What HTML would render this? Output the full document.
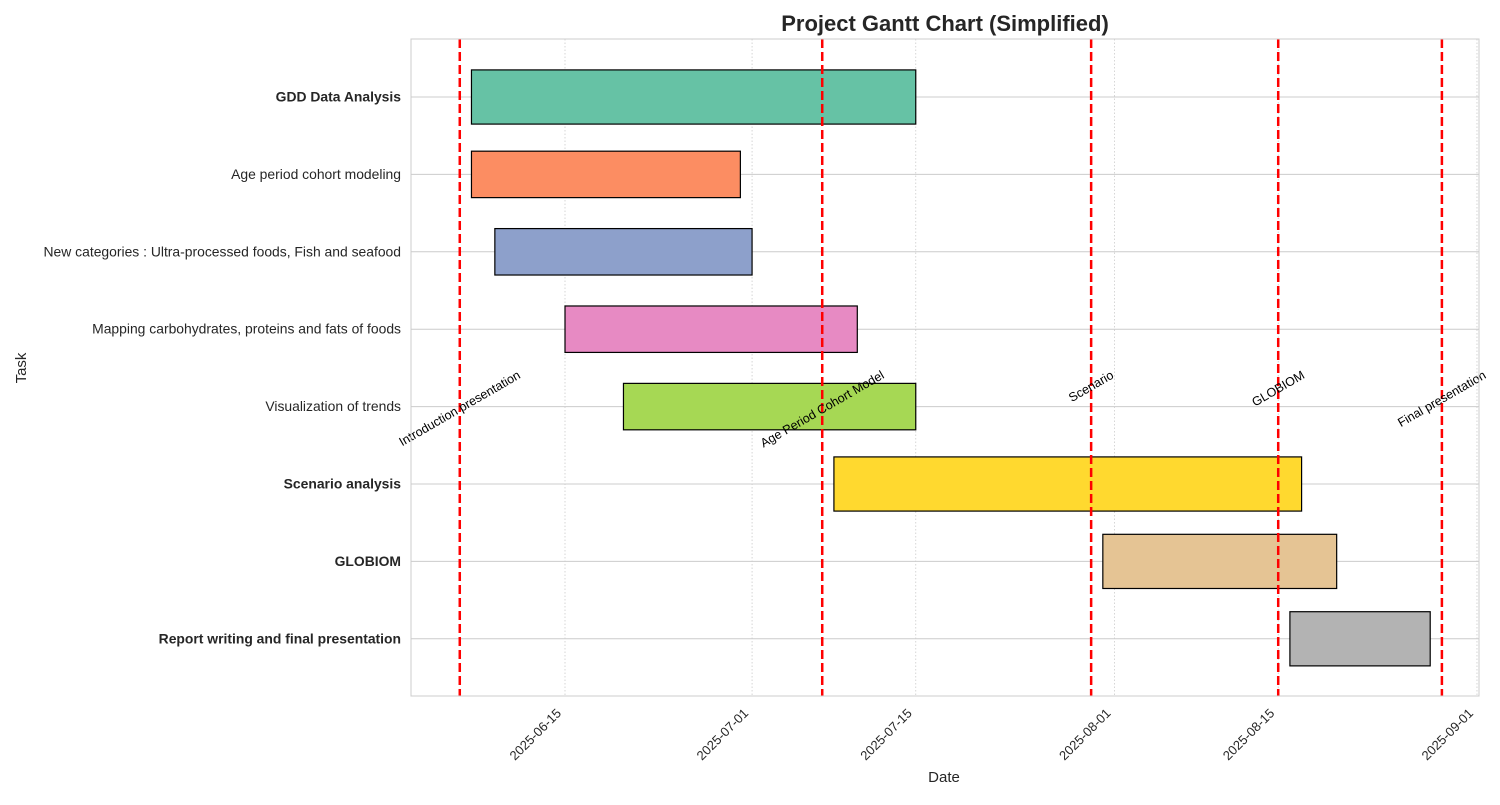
<!DOCTYPE html>
<html><head><meta charset="utf-8"><style>
body{margin:0;background:#fff}
svg{font-family:"Liberation Sans",Arial,sans-serif}
</style></head><body>
<svg id="chart" width="1500" height="800">
<rect width="1500" height="800" fill="#fff"/>
<text x="945" y="31" text-anchor="middle" font-size="22" font-weight="bold" fill="#262626">Project Gantt Chart (Simplified)</text>
<g id="grid"></g><g id="bars"></g><g id="miles"></g><g id="labels"></g>
<rect x="411" y="39" width="1068" height="657" fill="none" stroke="#cccccc" stroke-width="1"/>
<text x="944" y="782" text-anchor="middle" font-size="15" fill="#262626">Date</text>
<text transform="translate(26,368) rotate(-90)" text-anchor="middle" font-size="15" fill="#262626">Task</text>
</svg>
<script>
const tasks=["GDD Data Analysis","Age period cohort modeling","New categories : Ultra-processed foods, Fish and seafood","Mapping carbohydrates, proteins and fats of foods","Visualization of trends","Scenario analysis","GLOBIOM","Report writing and final presentation"];
const bold=[true,false,false,false,false,true,true,true];
const starts=["2025-06-07","2025-06-07","2025-06-09","2025-06-15","2025-06-20","2025-07-08","2025-07-31","2025-08-16"];
const ends=["2025-07-15","2025-06-30","2025-07-01","2025-07-10","2025-07-15","2025-08-17","2025-08-20","2025-08-28"];
const colors=["#66c2a5","#fc8d62","#8da0cb","#e78ac3","#a6d854","#ffd92f","#e5c494","#b3b3b3"];
const mileDates=["2025-06-06","2025-07-07","2025-07-30","2025-08-15","2025-08-29"];
const mileNames=["Introduction presentation","Age Period Cohort Model","Scenario","GLOBIOM","Final presentation"];
const tickDates=["2025-06-15","2025-07-01","2025-07-15","2025-08-01","2025-08-15","2025-09-01"];
const NS="http://www.w3.org/2000/svg";
const ref=Date.UTC(2025,5,15);
function dayOf(s){const p=s.split("-");return (Date.UTC(+p[0],p[1]-1,+p[2])-ref)/86400000;}
function X(s){return 565+dayOf(s)*11.692;}
function Y(i){return 97+i*77.4;}
function mk(tag,attrs,parent){const e=document.createElementNS(NS,tag);for(const k in attrs)e.setAttribute(k,attrs[k]);parent.appendChild(e);return e;}
const grid=document.getElementById("grid"),bars=document.getElementById("bars"),miles=document.getElementById("miles"),labels=document.getElementById("labels");
tickDates.forEach(d=>{const x=X(d);
 const l=mk("line",{x1:x,x2:x,y1:39,y2:696,stroke:"#cccccc","stroke-width":0.8,"stroke-dasharray":"1.5,2"},grid);
 
 
 const t=mk("text",{transform:`translate(${x-3},714) rotate(-45)`,"text-anchor":"end","font-size":13,fill:"#262626"},labels);
 t.textContent=d;
 
 
});
tasks.forEach((n,i)=>{const y=Y(i);
 const l=mk("line",{x1:411,x2:1479,y1:y,y2:y,stroke:"#cccccc","stroke-width":1},grid);
 
 
 const t=mk("text",{x:401,y:y+4.5,"text-anchor":"end","font-size":13.9,fill:"#262626","font-weight":bold[i]?"bold":"normal"},labels);
 t.textContent=n;
 
 
 const h=(bold[i]?0.7:0.6)*77.4;
 const x0=X(starts[i]),x1=X(ends[i]);
 const r=mk("rect",{x:x0,y:y-h/2,width:x1-x0,height:h,fill:colors[i],stroke:"#000","stroke-width":1.2},bars);
 
 
});
mileDates.forEach((d,i)=>{const x=X(d);
 const l=mk("line",{x1:x,x2:x,y1:39,y2:696,stroke:"#ff0000","stroke-width":2.5,"stroke-dasharray":"9,4"},miles);
 
 
 const g=mk("g",{},miles);
 const t=mk("text",{transform:"rotate(-30)","text-anchor":"middle","font-size":12.5,fill:"#000"},g);
 t.textContent=mileNames[i];
 
 
 const b=g.getBBox();
 g.setAttribute("transform",`translate(${x-(b.x+b.width/2)},${368-b.y})`);
});
</script>
</body></html>
